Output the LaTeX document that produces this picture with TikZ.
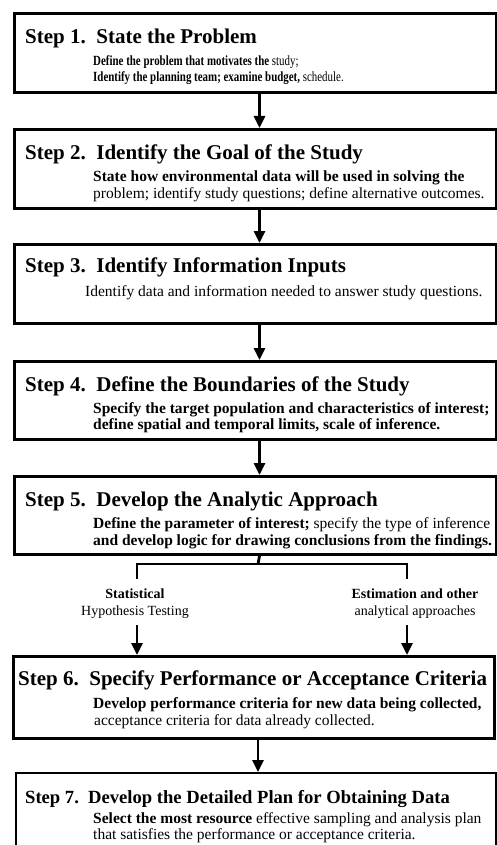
\documentclass[tikz,border=0pt]{standalone}
\usepackage{fontspec}
\setmainfont{Liberation Serif}
\usetikzlibrary{arrows.meta}
\begin{document}
\begin{tikzpicture}[x=1pt,y=-1pt,
  stepbox/.style={draw, line width=3pt, inner sep=0pt, anchor=north west},
  arr/.style={line width=2.8pt, -{Triangle[width=11pt,length=12pt]}},
  conn/.style={line width=2.8pt},
  ttl/.style={anchor=base west, inner sep=0pt, font=\bfseries\fontsize{21}{24}\selectfont},
  body/.style={anchor=base west, inner sep=0pt, font=\fontsize{15.5}{18}\selectfont},
  lab/.style={inner sep=0pt, align=center, font=\fontsize{14}{17}\selectfont}]
\useasboundingbox (0,0) rectangle (497,845);
% boxes
\node[stepbox, minimum width=482pt, minimum height=79pt] (s1) at (13,12) {};
\node[stepbox, minimum width=482pt, minimum height=79pt] (s2) at (13,128) {};
\node[stepbox, minimum width=482pt, minimum height=79pt] (s3) at (13,243) {};
\node[stepbox, minimum width=482pt, minimum height=78pt] (s4) at (13,360) {};
\node[stepbox, minimum width=482pt, minimum height=78pt] (s5) at (13,475) {};
\node[stepbox, minimum width=481pt, minimum height=82pt] (s6) at (12,655) {};
\node[stepbox, line width=2.2pt, minimum width=480pt, minimum height=76pt] (s7) at (15,772) {};
% titles
\node[ttl] (t1) at (25,44) {Step 1.\ \ State the Problem};
\node[ttl] (t2) at (25,160) {Step 2.\ \ Identify the Goal of the Study};
\node[ttl] (t3) at (25,272) {Step 3.\ \ Identify Information Inputs};
\node[ttl] (t4) at (25,391) {Step 4.\ \ Define the Boundaries of the Study};
\node[ttl] (t5) at (25,506) {Step 5.\ \ Develop the Analytic Approach};
\node[ttl] (t6) at (18,685) {Step 6.\ \ Specify Performance or Acceptance Criteria};
\node[ttl, font=\bfseries\fontsize{18.6}{22}\selectfont] (t7) at (25,803) {Step 7.\ \ Develop the Detailed Plan for Obtaining Data};
% body text
\node[body, font=\fontsize{14}{17}\selectfont] (d1a) at (93,66) {\scalebox{0.78}[1]{\textbf{Define the problem that motivates the} study;}};
\node[body, font=\fontsize{14}{17}\selectfont] (d1b) at (93,82) {\scalebox{0.78}[1]{\textbf{Identify the planning team; examine budget,} schedule.}};
\node[body] (d2a) at (93,182) {\textbf{State how environmental data will be used in solving the}};
\node[body] (d2b) at (93,198) {problem; identify study questions; define alternative outcomes.};
\node[body] (d3a) at (85,296) {Identify data and information needed to answer study questions.};
\node[body] (d4a) at (93,413) {\textbf{Specify the target population and characteristics of interest;}};
\node[body] (d4b) at (93,429) {\textbf{define spatial and temporal limits, scale of inference.}};
\node[body] (d5a) at (93,528) {\textbf{Define the parameter of interest;} specify the type of inference};
\node[body] (d5b) at (93,545) {\textbf{and develop logic for drawing conclusions from the findings.}};
\node[body] (d6a) at (93,708) {\textbf{Develop performance criteria for new data being collected,}};
\node[body] (d6b) at (94,725) {acceptance criteria for data already collected.};
\node[body] (d7a) at (93,823) {\textbf{Select the most resource} effective sampling and analysis plan};
\node[body] (d7b) at (93,839) {that satisfies the performance or acceptance criteria.};
% arrows between steps
\draw[arr] ([xshift=4pt]s1.south) -- ([xshift=4pt]s2.north);
\draw[arr] ([xshift=4pt]s2.south) -- ([xshift=4pt]s3.north);
\draw[arr] ([xshift=4pt]s3.south) -- ([xshift=4pt]s4.north);
\draw[arr] ([xshift=4pt]s4.south) -- ([xshift=4pt]s5.north);
\draw[arr] ([xshift=4pt]s6.south) -- ([xshift=4pt]s6.south |- s7.north);
% branch
\coordinate (bj) at (258,564);
\coordinate (bl) at (137,564);
\coordinate (br) at (407,564);
\coordinate (bld) at (137,579);
\coordinate (brd) at (407,579);
\draw[conn] ([xshift=4pt]s5.south) -- (bj);
\draw[conn] (bld) -- (bl) -- (br) -- (brd);
\node[lab] (l1) at (135,604) {\textbf{Statistical}\\Hypothesis Testing};
\node[lab] (l2) at (415,604) {\textbf{Estimation and other}\\analytical approaches};
\coordinate (a1) at (137,625);
\coordinate (a2) at (407,625);
\draw[arr] (a1) -- (a1 |- s6.north);
\draw[arr] (a2) -- (a2 |- s6.north);
\end{tikzpicture}
\end{document}
